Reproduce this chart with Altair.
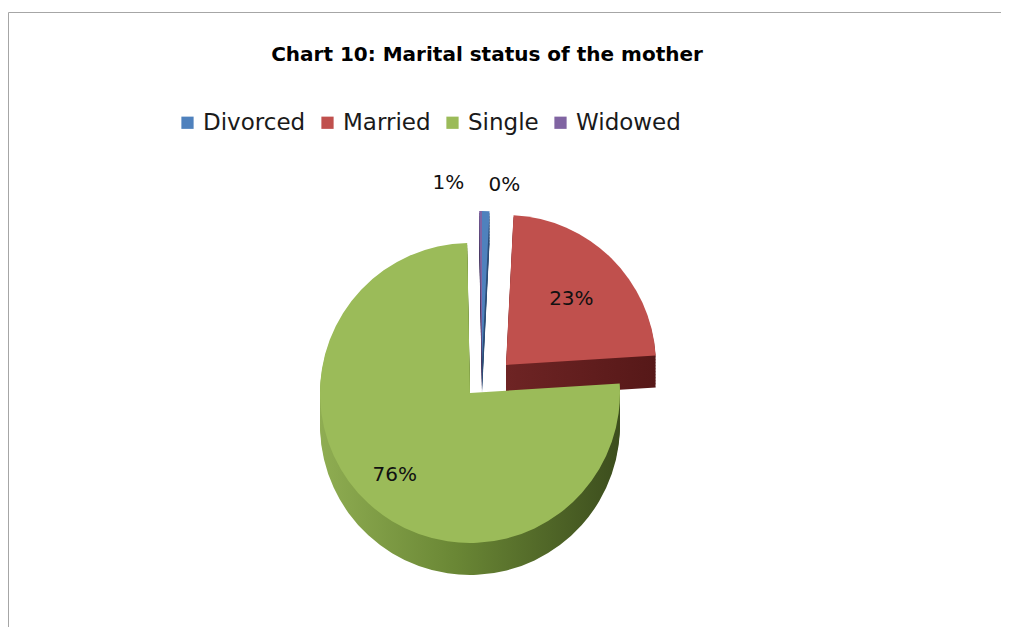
import altair as alt
import pandas as pd

CATEGORIES = ["Divorced", "Married", "Single", "Widowed"]
SHARES = [0.8, 23.2, 75.7, 0.3]
LABELS = ["1%", "23%", "76%", "0%"]
ORDER = [0, 1, 2, 3]
TITLE = "Chart 10: Marital status of the mother"
COLORS = ["#4F81BD", "#C0504D", "#9BBB59", "#8064A2"]

df = pd.DataFrame({"category": CATEGORIES, "share": SHARES, "label": LABELS, "order": ORDER})

W, H = 993, 619
CX, CY = 462, 385
R = 150
DEPTH = 32
FONT = "DejaVu Sans"

explode = {"Divorced": (12, -32), "Married": (36, -28), "Single": (0, 0), "Widowed": (12, -32)}


def grad(stops):
    return {"gradient": "linear", "x1": 0, "y1": 0, "x2": 1, "y2": 0,
            "stops": [{"offset": o, "color": c} for o, c in stops]}


side_fill = {
    "Divorced": "#2E4F78",
    "Married": grad([(0, "#6E2424"), (1, "#561818")]),
    "Single": grad([(0, "#8FAD52"), (0.45, "#6A8735"), (1, "#3C4D1D")]),
    "Widowed": "#4B3A66",
}

theta_scale = alt.Scale(domain=[0, 100])
color_scale = alt.Scale(domain=CATEGORIES, range=COLORS)
legend = alt.Legend(
    title=None, orient="none", legendX=168, legendY=103, direction="horizontal",
    symbolType="square", symbolSize=150, symbolStrokeWidth=0,
    labelFont=FONT, labelFontSize=23, labelColor="#1a1a1a", labelOffset=4,
    columnPadding=10, columns=4,
)

base = alt.Chart(df).transform_window(
    end="sum(share)", sort=[alt.SortField("order")], frame=[None, 0]
).transform_calculate(
    start="datum.end - datum.share", mid="datum.end - datum.share / 2"
)

layers = []
# frame
frame_df = pd.DataFrame({"k": [0]})
layers.append(alt.Chart(frame_df).mark_rule(color="#A6A6A6", strokeWidth=1).encode(
    x=alt.value(0.5), y=alt.value(4.5), y2=alt.value(H)))
layers.append(alt.Chart(frame_df).mark_rule(color="#A6A6A6", strokeWidth=1).encode(
    x=alt.value(0.5), x2=alt.value(W), y=alt.value(4.5)))

# sides (extruded depth)
for cat in CATEGORIES:
    dx, dy = explode[cat]
    for d in range(DEPTH, 0, -3):
        layers.append(
            base.transform_filter(alt.datum.category == cat)
            .mark_arc(outerRadius=R, fill=side_fill[cat])
            .encode(
                theta=alt.Theta("start:Q", scale=theta_scale),
                theta2="end:Q",
                x=alt.value(CX + dx), y=alt.value(CY + dy + d),
            )
        )

# top faces
for cat in CATEGORIES:
    dx, dy = explode[cat]
    layers.append(
        base.transform_filter(alt.datum.category == cat)
        .mark_arc(outerRadius=R)
        .encode(
            theta=alt.Theta("start:Q", scale=theta_scale),
            theta2="end:Q",
            color=alt.Color("category:N", scale=color_scale, legend=legend),
            x=alt.value(CX + dx), y=alt.value(CY + dy),
        )
    )

label_pos = {
    "Divorced": (R + 28, -38),
    "Married": (R * 0.62, 0),
    "Single": (R * 0.74, 0),
    "Widowed": (R + 26, 24),
}
for cat in CATEGORIES:
    dx, dy = explode[cat]
    rad, tdx = label_pos[cat]
    layers.append(
        base.transform_filter(alt.datum.category == cat)
        .mark_text(radius=rad, dx=tdx, font=FONT, fontSize=20, color="#111111")
        .encode(
            theta=alt.Theta("mid:Q", scale=theta_scale),
            text="label:N",
            x=alt.value(CX + dx), y=alt.value(CY + dy),
        )
    )

title_df = pd.DataFrame({"t": [TITLE]})
layers.append(alt.Chart(title_df).mark_text(
    font=FONT, fontSize=20, fontWeight="bold", color="#000000", align="center", baseline="middle"
).encode(text="t:N", x=alt.value(479), y=alt.value(47)))

chart = alt.layer(*layers).properties(
    width=W, height=H, padding=0, autosize=alt.AutoSizeParams(type="none")
).configure_view(stroke=None)

chart.save("out.html", embed_options={"renderer": "svg", "actions": False})
